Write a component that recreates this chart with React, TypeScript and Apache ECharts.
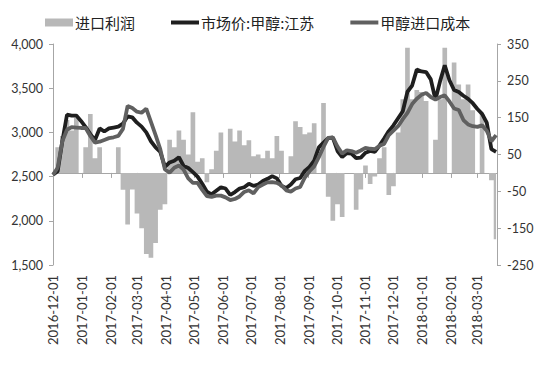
import React, { useEffect, useRef } from 'react';
import * as echarts from 'echarts';

const dates = [
  '2016-12-01', '2016-12-06', '2016-12-11', '2016-12-16', '2016-12-21', '2016-12-26', '2016-12-31',
  '2017-01-05', '2017-01-10', '2017-01-15', '2017-01-20', '2017-01-25', '2017-01-30',
  '2017-02-04', '2017-02-09', '2017-02-14', '2017-02-19', '2017-02-24',
  '2017-03-01', '2017-03-06', '2017-03-11', '2017-03-16', '2017-03-21', '2017-03-26', '2017-03-31',
  '2017-04-05', '2017-04-10', '2017-04-15', '2017-04-20', '2017-04-25', '2017-04-30',
  '2017-05-05', '2017-05-10', '2017-05-15', '2017-05-20', '2017-05-25', '2017-05-30',
  '2017-06-04', '2017-06-09', '2017-06-14', '2017-06-19', '2017-06-24', '2017-06-29',
  '2017-07-04', '2017-07-09', '2017-07-14', '2017-07-19', '2017-07-24', '2017-07-29',
  '2017-08-03', '2017-08-08', '2017-08-13', '2017-08-18', '2017-08-23', '2017-08-28',
  '2017-09-02', '2017-09-07', '2017-09-12', '2017-09-17', '2017-09-22', '2017-09-27',
  '2017-10-02', '2017-10-07', '2017-10-12', '2017-10-17', '2017-10-22', '2017-10-27',
  '2017-11-01', '2017-11-06', '2017-11-11', '2017-11-16', '2017-11-21', '2017-11-26',
  '2017-12-01', '2017-12-06', '2017-12-11', '2017-12-16', '2017-12-21', '2017-12-26', '2017-12-31',
  '2018-01-05', '2018-01-10', '2018-01-15', '2018-01-20', '2018-01-25', '2018-01-30',
  '2018-02-04', '2018-02-09', '2018-02-14', '2018-02-19', '2018-02-24',
  '2018-03-01', '2018-03-06', '2018-03-11', '2018-03-16', '2018-03-21',
];

const marketPrice = [
  2520, 2560, 2900, 3200, 3190, 3190, 3130,
  3060, 2980, 2915, 3045, 3010, 3045,
  3055, 3065, 3100, 3180, 3170,
  3110, 3065, 3000, 2900, 2830, 2780, 2610,
  2660, 2680, 2720, 2620, 2597, 2550,
  2500, 2420, 2330, 2300, 2340, 2380,
  2365, 2292, 2325, 2365, 2380, 2420,
  2395, 2410, 2450, 2475, 2505, 2480,
  2395, 2371, 2410, 2470, 2484, 2565,
  2610, 2680, 2830, 2885, 2935, 2940,
  2790, 2722, 2767, 2760, 2710, 2715,
  2770, 2790, 2780, 2850, 2930, 3015,
  3080, 3160, 3240, 3460, 3530, 3710, 3690,
  3683, 3600, 3370, 3580, 3760, 3590,
  3480, 3457, 3415, 3380, 3330,
  3265, 3210, 3110, 2810, 2780,
];

const importCost = [
  2520, 2600, 2900, 3030, 3060, 3055, 3050,
  3050, 2960, 2885, 2895, 2915, 2935,
  2945, 2960, 3040, 3300, 3276,
  3235, 3222, 3270, 3120, 2970, 2810, 2580,
  2545, 2600, 2625, 2580, 2480, 2430,
  2428, 2350, 2280, 2270, 2285, 2285,
  2265, 2235, 2247, 2275, 2326, 2345,
  2310, 2380, 2410, 2435, 2438, 2430,
  2400, 2345, 2330, 2365, 2382, 2490,
  2560, 2615, 2720, 2835, 2937, 2945,
  2840, 2760, 2798, 2788, 2770, 2795,
  2825, 2815, 2810, 2850, 2870, 2970,
  3020, 3070, 3150, 3220, 3320, 3380, 3425,
  3445, 3400, 3370, 3400, 3420, 3350,
  3270, 3253, 3140, 3090, 3070,
  3062, 3080, 3020, 2900, 2970,
];

const importProfit = [
  null, 70, 100, 144, 115, 150, null,
  70, 160, 40, 70, null, null,
  null, 70, -46, -140, -45,
  -110, -150, -220, -230, -190, -100, -85,
  90, 70, 115, 90, 50, 165,
  30, 40, -25, 10, 60, 110,
  null, 120, 85, 115, 75, 89,
  45, 50, 40, 60, 40, 100,
  60, null, 45, 140, 125, 105,
  110, 135, null, 190, -65, -130,
  -85, -120, null, null, -100, -45,
  20, -30, -10, 40, 70, -60,
  -36, 110, 200, 340, 200, 225, 220,
  195, null, 90, 200, 340, null,
  300, 240, 200, 240, 170,
  null, 160, null, -20, -180,
];

const monthTicks = [
  '2016-12-01', '2017-01-01', '2017-02-01', '2017-03-01', '2017-04-01', '2017-05-01',
  '2017-06-01', '2017-07-01', '2017-08-01', '2017-09-01', '2017-10-01', '2017-11-01',
  '2017-12-01', '2018-01-01', '2018-02-01', '2018-03-01',
];
const axisEnd = '2018-03-22';

const seriesNames = ['进口利润', '市场价:甲醇:江苏', '甲醇进口成本'];

function ts(s: string) {
  const [y, m, d] = s.split('-').map(Number);
  return new Date(y, m - 1, d).getTime();
}
function fmt(v: number) {
  const d = new Date(v);
  return `${d.getFullYear()}-${String(d.getMonth() + 1).padStart(2, '0')}-${String(d.getDate()).padStart(2, '0')}`;
}

const lineIcon = 'path://M0 0H28V4H0Z';

export default function App() {
  const ref = useRef<HTMLDivElement>(null);
  useEffect(() => {
    const chart = echarts.init(ref.current!, null, { renderer: 'svg' });
    const axisColor = '#a6a6a6';
    const barColor = '#b8b8b8';
    const tickTs = monthTicks.map(ts);
    chart.setOption({
      animation: false,
      textStyle: { fontFamily: 'Lato, "Noto Sans CJK SC", sans-serif' },
      legend: {
        top: 10,
        left: 40,
        itemGap: 36,
        itemWidth: 28,
        itemHeight: 8,
        textStyle: { fontSize: 15, color: '#222', fontFamily: '"Noto Sans CJK SC", sans-serif', padding: [0, 0, 0, -3] },
        data: [
          { name: seriesNames[0], icon: 'rect' },
          { name: seriesNames[1], icon: lineIcon },
          { name: seriesNames[2], icon: lineIcon },
        ],
      },
      grid: { left: 53, right: 42, top: 44, bottom: 100 },
      xAxis: {
        type: 'value',
        min: ts(dates[0]),
        max: ts(axisEnd),
        axisLine: { lineStyle: { color: axisColor } },
        axisTick: { show: true, length: 5, customValues: tickTs, lineStyle: { color: axisColor } },
        axisLabel: {
          customValues: tickTs,
          rotate: 90,
          formatter: (v: number) => fmt(v),
          fontSize: 13,
          color: '#333',
          margin: 10,
          hideOverlap: false,
        },
        splitLine: { show: false },
      },
      yAxis: [
        {
          type: 'value',
          min: 1500,
          max: 4000,
          interval: 500,
          axisLine: { show: true, lineStyle: { color: axisColor } },
          axisTick: { show: true, length: 4, lineStyle: { color: axisColor } },
          splitLine: { show: false },
          axisLabel: {
            formatter: (v: number) => v.toLocaleString('en-US'),
            fontSize: 12.5,
            color: '#333',
            margin: 10,
          },
        },
        {
          type: 'value',
          position: 'right',
          min: -250,
          max: 350,
          interval: 100,
          axisLine: { show: true, lineStyle: { color: axisColor } },
          axisTick: { show: true, length: 4, lineStyle: { color: axisColor } },
          splitLine: { show: false },
          axisLabel: { fontSize: 12.5, color: '#333', margin: 10 },
        },
      ],
      series: [
        {
          name: seriesNames[0],
          type: 'line',
          step: 'middle',
          yAxisIndex: 1,
          symbol: 'none',
          lineStyle: { width: 0, color: barColor },
          itemStyle: { color: barColor },
          areaStyle: { color: barColor, opacity: 1 },
          data: dates.map((d, i) => [ts(d), importProfit[i] ?? 0]),
        },
        {
          name: seriesNames[1],
          type: 'line',
          yAxisIndex: 0,
          symbol: 'none',
          lineStyle: { width: 3.8, color: '#1f1f1f' },
          itemStyle: { color: '#1f1f1f' },
          data: dates.map((d, i) => [ts(d), marketPrice[i]]),
        },
        {
          name: seriesNames[2],
          type: 'line',
          yAxisIndex: 0,
          symbol: 'none',
          lineStyle: { width: 3.8, color: '#606060' },
          itemStyle: { color: '#606060' },
          data: dates.map((d, i) => [ts(d), importCost[i]]),
        },
      ],
    });
    return () => chart.dispose();
  }, []);
  return <div ref={ref} style={{ position: 'absolute', left: 0, top: 0, width: 539, height: 365 }} />;
}
